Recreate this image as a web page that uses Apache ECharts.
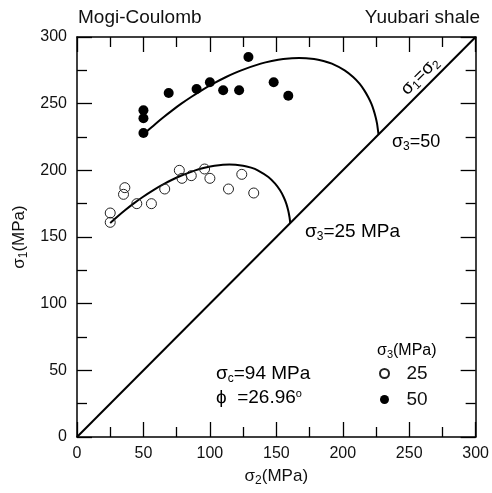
<!DOCTYPE html>
<html><head><meta charset="utf-8">
<script src="https://cdn.jsdelivr.net/npm/echarts@6/dist/echarts.min.js"></script>
<style>html,body{margin:0;padding:0;background:#fff}#c{width:492px;height:493px}</style>
</head><body><div id="c"></div>
<script>
// tick labels
const tickValues = [0, 50, 100, 150, 200, 250, 300];
// series names (legend)
const seriesNames = ['25', '50'];
// σ3 = 25 MPa test data [σ2, σ1]
const s3_25 = [[25,168],[25,161],[36,187],[35,182],[45,175],[56,175],[66,186],[77,200],[79,194],[86,196],[96,201],[100,194],[114,186],[124,197],[133,183]];
// σ3 = 50 MPa test data [σ2, σ1]
const s3_50 = [[50,245],[50,239],[50,228],[69,258],[90,261],[100,266],[110,260],[122,260],[129,285],[148,266],[159,256]];
// Mogi-Coulomb fitted curve, σ3 = 25 [σ2, σ1]
const curve25 = [[25,160.4],[26.7,162],[30.1,165],[36.1,170],[42.5,175],[49.5,180],[57.2,185],[65.9,190],[76,195],[89,200],[96,202],[103.5,203.5],[114.7,204.4],[125,203.5],[131,202],[136,200],[144,195],[149.1,190],[152.8,185],[155.5,180],[157.5,175],[158.9,170],[159.9,165],[160.3,162],[160.4,160.4]];
// Mogi-Coulomb fitted curve, σ3 = 50 [σ2, σ1]
const curve50 = [[50,226.9],[53.5,230],[59.2,235],[65.3,240],[71.7,245],[78.5,250],[85.9,255],[93.8,260],[102.5,265],[112.2,270],[123.6,275],[138.3,280],[146.5,282],[155.2,283.5],[167.2,284.3],[178.4,283.5],[185.5,282],[191.8,280],[201.4,275],[207.8,270],[212.6,265],[216.2,260],[219.1,255],[221.5,250],[223.3,245],[224.7,240],[225.8,235],[226.5,230],[226.9,226.9]];
// σ1 = σ2 line
const diagonal = [[0,0],[300,300]];

const FF = '"Liberation Sans", Arial, sans-serif';
const TC = '#111';
const sub = {fontSize: 12, fontFamily: FF, color: TC, padding: [9, 0, 0, 0]};
function mainStyle(fs){ return {fontSize: fs, fontFamily: FF, color: TC}; }

const chart = echarts.init(document.getElementById('c'), null, {renderer: 'canvas'});

function axisCommon(extra){
  return Object.assign({
    type: 'value', min: 0, max: 300, interval: 50,
    axisLine: {show: true, onZero: false, lineStyle: {color: '#000', width: 1.5}},
    axisTick: {show: true, inside: true, length: 15, lineStyle: {color: '#000', width: 1.3}},
    minorTick: {show: true, splitNumber: 2, length: 10, lineStyle: {color: '#000', width: 1.3}},
    splitLine: {show: false}, minorSplitLine: {show: false}
  }, extra);
}

const option = {
  animation: false,
  backgroundColor: '#fff',
  textStyle: {fontFamily: FF},
  grid: {left: 77, top: 37, width: 400, height: 400, containLabel: false},
  xAxis: [
    axisCommon({position: 'bottom',
      axisLabel: {show: true, fontSize: 16, color: TC, margin: 9, fontFamily: FF,
        formatter: v => tickValues.includes(v) ? String(v) : ''},
      name: '{m|σ}{s|2}{m|(MPa)}', nameLocation: 'middle', nameGap: 29,
      nameTextStyle: {rich: {m: mainStyle(17), s: sub}}}),
    axisCommon({position: 'top', axisLabel: {show: false}})
  ],
  yAxis: [
    axisCommon({position: 'left',
      axisLabel: {show: true, fontSize: 16, color: TC, margin: 10, fontFamily: FF,
        formatter: v => tickValues.includes(v) ? String(v) : ''},
      name: '{m|σ}{s|1}{m|(MPa)}', nameLocation: 'middle', nameGap: 46,
      nameTextStyle: {rich: {m: mainStyle(17), s: sub}}}),
    axisCommon({position: 'right', axisLabel: {show: false}})
  ],
  legend: {
    data: seriesNames, orient: 'vertical', left: 374, top: 359,
    itemWidth: 34, itemHeight: 9, itemGap: 7, icon: 'circle',
    textStyle: {fontSize: 19, color: TC, fontFamily: FF}
  },
  series: [
    {type: 'line', data: diagonal, xAxisIndex: 0, yAxisIndex: 0, showSymbol: false, symbol: 'none',
      lineStyle: {color: '#000', width: 2}, silent: true, z: 2},
    {type: 'line', data: curve25, showSymbol: false, symbol: 'none', smooth: 0.3,
      lineStyle: {color: '#000', width: 2}, silent: true, z: 2},
    {type: 'line', data: curve50, showSymbol: false, symbol: 'none', smooth: 0.3,
      lineStyle: {color: '#000', width: 2}, silent: true, z: 2},
    {name: seriesNames[0], type: 'scatter', data: s3_25, symbol: 'circle', symbolSize: 10,
      itemStyle: {color: 'rgba(255,255,255,0)', borderColor: '#222', borderWidth: 1, opacity: 1}, z: 3},
    {name: seriesNames[1], type: 'scatter', data: s3_50, symbol: 'circle', symbolSize: 10,
      itemStyle: {color: '#000', borderColor: '#000', borderWidth: 0, opacity: 1}, z: 3}
  ],
  graphic: [
    {type: 'text', x: 78, y: 18, style: {text: 'Mogi-Coulomb', fontSize: 19, fontFamily: FF, fill: TC, align: 'left', verticalAlign: 'middle', textAlign: 'left', textVerticalAlign: 'middle'}},
    {type: 'text', x: 480, y: 18, style: {text: 'Yuubari shale', fontSize: 19, fontFamily: FF, fill: TC, align: 'right', verticalAlign: 'middle', textAlign: 'right', textVerticalAlign: 'middle'}},
    {type: 'text', x: 216, y: 374, style: {text: '{m|σ}{s|c}{m|=94 MPa}', rich: {m: mainStyle(19), s: sub}, align: 'left', verticalAlign: 'middle', textAlign: 'left', textVerticalAlign: 'middle'}},
    {type: 'text', x: 216, y: 398, style: {text: '{m|ϕ  =26.96}{o|o}', rich: {m: mainStyle(19), o: {fontSize: 11, fontFamily: FF, color: TC, padding: [0, 0, 9, 0]}}, align: 'left', verticalAlign: 'middle', textAlign: 'left', textVerticalAlign: 'middle'}},
    {type: 'text', x: 420, y: 76, rotation: Math.PI / 4, style: {text: '{m|σ}{s|1}{m|=σ}{s|2}', rich: {m: mainStyle(18), s: sub}, align: 'center', verticalAlign: 'middle', textAlign: 'center', textVerticalAlign: 'middle'}},
    {type: 'text', x: 392, y: 142, style: {text: '{m|σ}{s|3}{m|=50}', rich: {m: mainStyle(18), s: sub}, align: 'left', verticalAlign: 'middle', textAlign: 'left', textVerticalAlign: 'middle'}},
    {type: 'text', x: 305, y: 232, style: {text: '{m|σ}{s|3}{m|=25 MPa}', rich: {m: mainStyle(19), s: sub}, align: 'left', verticalAlign: 'middle', textAlign: 'left', textVerticalAlign: 'middle'}},
    {type: 'text', x: 377, y: 351, style: {text: '{m|σ}{s|3}{m|(MPa)}', rich: {m: mainStyle(16), s: {fontSize: 11, fontFamily: FF, color: TC, padding: [8, 0, 0, 0]}}, align: 'left', verticalAlign: 'middle', textAlign: 'left', textVerticalAlign: 'middle'}}
  ]
};
chart.setOption(option);
</script></body></html>
